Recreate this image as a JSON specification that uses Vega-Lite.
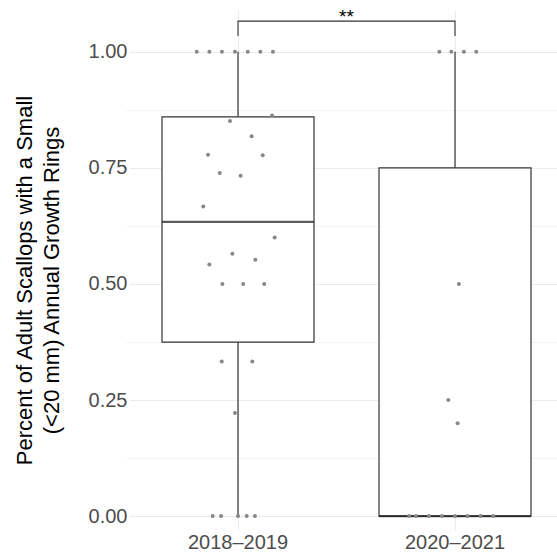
{
  "$schema": "https://vega.github.io/schema/vega-lite/v6.json",
  "autosize": {"type": "none"},
  "width": 425,
  "height": 520,
  "padding": {"left": 132, "top": 10, "right": 0, "bottom": 23},
  "background": "white",
  "config": {"view": {"stroke": null}, "font": "Liberation Sans"},
  "datasets": {
    "scallops": [
      {"period": "2018–2019", "value": 1, "jitter": -0.190},
      {"period": "2018–2019", "value": 1, "jitter": -0.132},
      {"period": "2018–2019", "value": 1, "jitter": -0.074},
      {"period": "2018–2019", "value": 1, "jitter": -0.014},
      {"period": "2018–2019", "value": 1, "jitter": 0.045},
      {"period": "2018–2019", "value": 1, "jitter": 0.103},
      {"period": "2018–2019", "value": 1, "jitter": 0.161},
      {"period": "2018–2019", "value": 0.863, "jitter": 0.157},
      {"period": "2018–2019", "value": 0.851, "jitter": -0.037},
      {"period": "2018–2019", "value": 0.818, "jitter": 0.063},
      {"period": "2018–2019", "value": 0.778, "jitter": -0.138},
      {"period": "2018–2019", "value": 0.777, "jitter": 0.114},
      {"period": "2018–2019", "value": 0.739, "jitter": -0.084},
      {"period": "2018–2019", "value": 0.733, "jitter": 0.012},
      {"period": "2018–2019", "value": 0.667, "jitter": -0.160},
      {"period": "2018–2019", "value": 0.6, "jitter": 0.169},
      {"period": "2018–2019", "value": 0.565, "jitter": -0.026},
      {"period": "2018–2019", "value": 0.552, "jitter": 0.080},
      {"period": "2018–2019", "value": 0.542, "jitter": -0.132},
      {"period": "2018–2019", "value": 0.5, "jitter": -0.072},
      {"period": "2018–2019", "value": 0.5, "jitter": 0.024},
      {"period": "2018–2019", "value": 0.5, "jitter": 0.121},
      {"period": "2018–2019", "value": 0.333, "jitter": -0.075},
      {"period": "2018–2019", "value": 0.333, "jitter": 0.066},
      {"period": "2018–2019", "value": 0.222, "jitter": -0.014},
      {"period": "2018–2019", "value": 0, "jitter": -0.117},
      {"period": "2018–2019", "value": 0, "jitter": -0.078},
      {"period": "2018–2019", "value": 0, "jitter": 0},
      {"period": "2018–2019", "value": 0, "jitter": 0.040},
      {"period": "2018–2019", "value": 0, "jitter": 0.078},
      {"period": "2020–2021", "value": 1, "jitter": -0.072},
      {"period": "2020–2021", "value": 1, "jitter": -0.017},
      {"period": "2020–2021", "value": 1, "jitter": 0.041},
      {"period": "2020–2021", "value": 1, "jitter": 0.098},
      {"period": "2020–2021", "value": 0.5, "jitter": 0.018},
      {"period": "2020–2021", "value": 0.25, "jitter": -0.031},
      {"period": "2020–2021", "value": 0.2, "jitter": 0.012},
      {"period": "2020–2021", "value": 0, "jitter": -0.211},
      {"period": "2020–2021", "value": 0, "jitter": -0.180},
      {"period": "2020–2021", "value": 0, "jitter": -0.120},
      {"period": "2020–2021", "value": 0, "jitter": -0.061},
      {"period": "2020–2021", "value": 0, "jitter": 0},
      {"period": "2020–2021", "value": 0, "jitter": 0.058},
      {"period": "2020–2021", "value": 0, "jitter": 0.118},
      {"period": "2020–2021", "value": 0, "jitter": 0.176}
    ],
    "bracket": [
      {"period": "2018–2019", "y": 1.034, "step": 1},
      {"period": "2018–2019", "y": 1.066, "step": 2},
      {"period": "2020–2021", "y": 1.066, "step": 3},
      {"period": "2020–2021", "y": 1.034, "step": 4}
    ],
    "signif": [
      {"period": "2018–2019", "shift": 0.5, "y": 1.066, "label": "**"}
    ]
  },
  "layer": [
    {
      "data": {"name": "scallops"},
      "mark": {
        "type": "boxplot",
        "extent": 1.5,
        "size": 152,
        "outliers": false,
        "box": {"fill": "white", "stroke": "#333333", "strokeWidth": 1.2},
        "median": {"color": "#1a1a1a", "thickness": 2.2},
        "rule": {"color": "#333333", "strokeWidth": 1.2}
      },
      "encoding": {
        "x": {
          "field": "period",
          "type": "nominal",
          "scale": {"type": "band", "range": [-2.5, 431.5], "paddingInner": 0, "paddingOuter": 0},
          "axis": {
            "title": null,
            "labelAngle": 0,
            "labelFontSize": 20,
            "labelColor": "#4d4d4d",
            "labelPadding": 2,
            "ticks": false,
            "domain": false,
            "grid": true,
            "gridColor": "#ebebeb",
            "gridWidth": 1.1,
            "bandPosition": 0.5
          }
        },
        "y": {
          "field": "value",
          "type": "quantitative",
          "scale": {"domain": [-0.03, 1.09], "nice": false, "zero": false},
          "axis": {
            "values": [0, 0.25, 0.5, 0.75, 1],
            "format": ".2f",
            "labelFontSize": 20,
            "labelColor": "#4d4d4d",
            "labelPadding": 5,
            "ticks": false,
            "domain": false,
            "grid": true,
            "gridColor": "#ebebeb",
            "gridWidth": 1.1,
            "title": ["Percent of Adult Scallops with a Small", "(<20 mm) Annual Growth Rings"],
            "titleFontSize": 22,
            "titleFontWeight": "normal",
            "titleColor": "black",
            "titleAngle": 270,
            "titleAlign": "center",
            "titleBaseline": "alphabetic",
            "titleLineHeight": 27,
            "titleX": -101,
            "titleY": 270
          }
        }
      }
    },
    {
      "data": {"name": "scallops"},
      "mark": {"type": "circle", "size": 16, "color": "#878787", "opacity": 1},
      "encoding": {
        "x": {"field": "period", "type": "nominal"},
        "xOffset": {"field": "jitter", "type": "quantitative", "scale": {"domain": [-0.5, 0.5], "range": [0, 217]}},
        "y": {
          "field": "value",
          "type": "quantitative",
          "axis": {
            "orient": "right",
            "values": [0.125, 0.375, 0.625, 0.875],
            "labels": false,
            "ticks": false,
            "domain": false,
            "grid": true,
            "gridColor": "#eeeeee",
            "gridWidth": 0.7,
            "title": null
          }
        }
      }
    },
    {
      "data": {"name": "bracket"},
      "mark": {"type": "line", "color": "#333333", "strokeWidth": 1.1},
      "encoding": {
        "x": {"field": "period", "type": "nominal"},
        "y": {"field": "y", "type": "quantitative", "axis": null},
        "order": {"field": "step", "type": "quantitative"}
      }
    },
    {
      "data": {"name": "signif"},
      "mark": {"type": "text", "fontSize": 19, "baseline": "alphabetic", "dy": 1.5, "color": "black", "align": "center"},
      "encoding": {
        "x": {"field": "period", "type": "nominal"},
        "xOffset": {"field": "shift", "type": "quantitative"},
        "y": {"field": "y", "type": "quantitative", "axis": null},
        "text": {"field": "label"}
      }
    }
  ],
  "resolve": {"axis": {"y": "independent"}}
}
